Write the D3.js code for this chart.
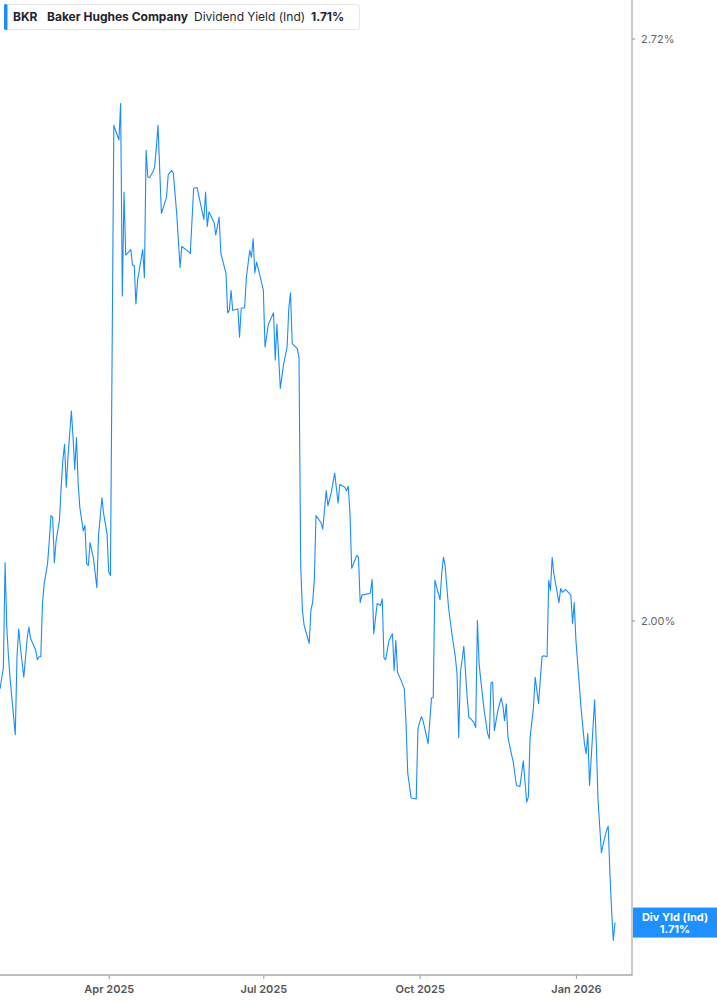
<!DOCTYPE html>
<html>
<head>
<meta charset="utf-8">
<script src="https://cdn.jsdelivr.net/npm/d3@7/dist/d3.min.js"></script>
<style>
  html, body { margin: 0; padding: 0; background: #fff; }
  svg { display: block; font-family: Inter, "Noto Sans", sans-serif; }
</style>
</head>
<body>
<svg id="chart" width="717" height="1005"></svg>
<script>
const ticker = "BKR";
const company = "Baker Hughes Company";
const metric = "Dividend Yield (Ind)";
const lastLabel = "1.71%";
const endTagTitle = "Div Yld (Ind)";

const yTicks = [2.00, 2.72];
const xTicks = ["2025-04-01", "2025-07-01", "2025-10-01", "2026-01-01"];
const xTickLabels = ["Apr 2025", "Jul 2025", "Oct 2025", "Jan 2026"];

const dates = [
  "2025-01-27","2025-01-29","2025-01-30","2025-01-31","2025-02-01","2025-02-02","2025-02-05","2025-02-06","2025-02-07","2025-02-08",
  "2025-02-10","2025-02-12","2025-02-13","2025-02-14","2025-02-17","2025-02-18","2025-02-19","2025-02-20","2025-02-21","2025-02-22",
  "2025-02-24","2025-02-25","2025-02-26","2025-02-27","2025-02-28","2025-03-01","2025-03-03","2025-03-04","2025-03-05","2025-03-06",
  "2025-03-07","2025-03-08","2025-03-10","2025-03-11","2025-03-12","2025-03-13","2025-03-14","2025-03-15","2025-03-17","2025-03-18",
  "2025-03-19","2025-03-20","2025-03-21","2025-03-23","2025-03-25","2025-03-26","2025-03-28","2025-03-29","2025-03-31","2025-04-01",
  "2025-04-02","2025-04-04","2025-04-07","2025-04-08","2025-04-09","2025-04-10","2025-04-11","2025-04-12","2025-04-14","2025-04-15",
  "2025-04-16","2025-04-17","2025-04-18","2025-04-21","2025-04-22","2025-04-23","2025-04-24","2025-04-25","2025-04-27","2025-04-28",
  "2025-04-29","2025-04-30","2025-05-02","2025-05-05","2025-05-06","2025-05-08","2025-05-09","2025-05-11","2025-05-13","2025-05-14",
  "2025-05-17","2025-05-19","2025-05-21","2025-05-23","2025-05-27","2025-05-28","2025-05-29","2025-05-30","2025-06-02","2025-06-03",
  "2025-06-05","2025-06-06","2025-06-09","2025-06-10","2025-06-11","2025-06-12","2025-06-13","2025-06-16","2025-06-17","2025-06-18",
  "2025-06-20","2025-06-21","2025-06-23","2025-06-24","2025-06-25","2025-06-26","2025-06-27","2025-06-29","2025-07-01","2025-07-02",
  "2025-07-04","2025-07-07","2025-07-08","2025-07-09","2025-07-11","2025-07-13","2025-07-15","2025-07-16","2025-07-17","2025-07-18",
  "2025-07-21","2025-07-22","2025-07-23","2025-07-24","2025-07-25","2025-07-28","2025-07-29","2025-07-30","2025-07-31","2025-08-01",
  "2025-08-04","2025-08-05","2025-08-07","2025-08-08","2025-08-10","2025-08-12","2025-08-14","2025-08-15","2025-08-18","2025-08-19",
  "2025-08-20","2025-08-21","2025-08-22","2025-08-25","2025-08-26","2025-08-27","2025-08-28","2025-09-02","2025-09-03","2025-09-04",
  "2025-09-06","2025-09-08","2025-09-09","2025-09-10","2025-09-11","2025-09-13","2025-09-15","2025-09-16","2025-09-17","2025-09-18",
  "2025-09-20","2025-09-22","2025-09-23","2025-09-24","2025-09-26","2025-09-29","2025-09-30","2025-10-02","2025-10-03","2025-10-06",
  "2025-10-08","2025-10-09","2025-10-10","2025-10-13","2025-10-14","2025-10-15","2025-10-16","2025-10-18","2025-10-20","2025-10-22",
  "2025-10-23","2025-10-24","2025-10-25","2025-10-26","2025-10-27","2025-10-29","2025-10-30","2025-10-31","2025-11-02","2025-11-03",
  "2025-11-04","2025-11-05","2025-11-06","2025-11-08","2025-11-10","2025-11-11","2025-11-12","2025-11-13","2025-11-14","2025-11-16",
  "2025-11-18","2025-11-19","2025-11-20","2025-11-21","2025-11-22","2025-11-24","2025-11-25","2025-11-27","2025-11-29","2025-12-01",
  "2025-12-03","2025-12-04","2025-12-05","2025-12-07","2025-12-08","2025-12-10","2025-12-12","2025-12-13","2025-12-15","2025-12-16",
  "2025-12-17","2025-12-18","2025-12-19","2025-12-22","2025-12-23","2025-12-24","2025-12-26","2025-12-29","2025-12-30","2025-12-31",
  "2026-01-01","2026-01-04","2026-01-06","2026-01-07","2026-01-08","2026-01-09","2026-01-10","2026-01-12","2026-01-13","2026-01-14",
  "2026-01-16","2026-01-17","2026-01-19","2026-01-20","2026-01-21","2026-01-22","2026-01-23","2026-01-24"
];

const yields = [
  1.929,1.951,2.062,1.993,1.962,1.938,1.883,1.962,1.991,1.972,
  1.941,1.981,1.993,1.981,1.969,1.959,1.962,1.962,2.018,2.039,
  2.061,2.086,2.114,2.112,2.062,2.086,2.109,2.146,2.177,2.195,
  2.146,2.180,2.234,2.203,2.166,2.203,2.150,2.123,2.097,2.103,
  2.061,2.059,2.084,2.067,2.035,2.092,2.134,2.116,2.094,2.052,
  2.048,2.598,2.578,2.628,2.374,2.508,2.426,2.428,2.433,2.413,
  2.413,2.364,2.394,2.433,2.397,2.564,2.528,2.527,2.535,2.541,
  2.567,2.598,2.480,2.501,2.531,2.537,2.533,2.480,2.410,2.437,
  2.432,2.428,2.513,2.514,2.472,2.508,2.463,2.482,2.468,2.452,
  2.475,2.428,2.403,2.353,2.356,2.381,2.356,2.358,2.323,2.359,
  2.359,2.397,2.432,2.423,2.447,2.403,2.417,2.400,2.381,2.311,
  2.339,2.353,2.295,2.339,2.261,2.291,2.311,2.359,2.378,2.315,
  2.309,2.298,2.059,2.011,1.995,1.976,2.011,2.019,2.043,2.114,
  2.106,2.099,2.142,2.125,2.140,2.162,2.128,2.149,2.146,2.142,
  2.147,2.116,2.056,2.070,2.068,2.019,2.027,2.029,2.044,1.986,
  2.018,2.016,2.023,1.961,1.959,1.979,1.986,1.948,1.979,1.946,
  1.938,1.929,1.894,1.845,1.821,1.820,1.889,1.901,1.897,1.874,
  1.920,1.920,2.043,2.022,2.050,2.068,2.059,2.014,1.986,1.962,
  1.945,1.880,1.946,1.959,1.973,1.920,1.900,1.899,1.895,1.890,
  2.000,1.955,1.938,1.907,1.884,1.879,1.935,1.936,1.887,1.907,
  1.920,1.912,1.897,1.914,1.880,1.864,1.857,1.833,1.832,1.857,
  1.817,1.822,1.880,1.910,1.941,1.914,1.962,1.963,1.962,2.043,
  2.032,2.068,2.050,2.019,2.034,2.030,2.033,2.027,1.997,2.019,
  1.979,1.910,1.874,1.864,1.884,1.833,1.860,1.918,1.874,1.819,
  1.769,1.777,1.790,1.794,1.750,1.716,1.689,1.705
];

const parse = d3.timeParse("%Y-%m-%d");
const data = dates.map((d, i) => ({ date: parse(d), value: yields[i] }));

const svg = d3.select("#chart");
const plotRight = 632, plotBottom = 975;

const x = d3.scaleTime()
  .domain([new Date(2025, 0, 27), new Date(2026, 1, 3)])
  .range([0, plotRight]);

const y = d3.scaleLog()
  .domain([2.00, 2.72])
  .range([620.5, 38.5]);

// line
const line = d3.line().x(d => x(d.date)).y(d => y(d.value));
svg.append("path")
  .datum(data)
  .attr("fill", "none")
  .attr("stroke", "#1a8cff")
  .attr("stroke-width", 1.1)
  .attr("stroke-linejoin", "round")
  .attr("d", line);

// right axis
const yAxis = d3.axisRight(y).tickValues(yTicks).tickSize(3)
  .tickFormat(d => d.toFixed(2) + "%");
const gy = svg.append("g").attr("transform", `translate(${plotRight},0)`).call(yAxis);
gy.select(".domain").remove();
gy.selectAll(".tick line").attr("stroke", "#888");
gy.selectAll(".tick text").attr("x", 9).attr("fill", "#666")
  .style("font-size", "11px").style("font-family", "Inter, sans-serif");
svg.append("line").attr("x1", plotRight).attr("x2", plotRight)
  .attr("y1", 0).attr("y2", plotBottom)
  .attr("stroke", "#a8a8a8").attr("stroke-width", 1.2);

// bottom axis
const xAxis = d3.axisBottom(x).tickValues(xTicks.map(parse)).tickSize(4)
  .tickFormat((d, i) => xTickLabels[i]);
const gx = svg.append("g").attr("transform", `translate(0,${plotBottom})`).call(xAxis);
gx.select(".domain").remove();
gx.selectAll(".tick line").attr("stroke", "#999");
gx.selectAll(".tick text").attr("y", 10).attr("fill", "#555")
  .style("font-size", "11px").style("font-weight", "600").style("font-family", "Inter, sans-serif");
svg.append("line").attr("x1", 0).attr("x2", plotRight + 0.6)
  .attr("y1", plotBottom).attr("y2", plotBottom)
  .attr("stroke", "#a8a8a8").attr("stroke-width", 1.4);

// legend
const lg = svg.append("g");
lg.append("rect").attr("x", 4.5).attr("y", 4.5).attr("width", 355).attr("height", 25)
  .attr("rx", 3).attr("fill", "#fff").attr("stroke", "#e6e6e6");
lg.append("rect").attr("x", 4).attr("y", 4).attr("width", 3.5).attr("height", 26)
  .attr("rx", 1.5).attr("fill", "#1a8cff");
const lt = lg.append("text").attr("y", 21).style("font-size", "12px").attr("fill", "#1f2430");
lt.append("tspan").attr("x", 13).style("font-weight", "700").text(ticker);
lt.append("tspan").attr("x", 47).style("font-weight", "700").text(company);
lt.append("tspan").attr("x", 194).style("font-weight", "400").text(metric);
lt.append("tspan").attr("x", 311).style("font-weight", "700").text(lastLabel);

// end tag
const last = data[data.length - 1];
const ty = y(last.value);
const tag = svg.append("g");
tag.append("rect").attr("x", plotRight + 1).attr("y", ty - 15).attr("width", 717 - plotRight).attr("height", 30)
  .attr("fill", "#1e90ff");
tag.append("text").attr("x", 675).attr("y", ty - 2).attr("text-anchor", "middle")
  .attr("fill", "#fff").style("font-size", "11px").style("font-weight", "700").text(endTagTitle);
tag.append("text").attr("x", 675).attr("y", ty + 10).attr("text-anchor", "middle")
  .attr("fill", "#fff").style("font-size", "11px").style("font-weight", "700").text(lastLabel);
</script>
</body>
</html>
